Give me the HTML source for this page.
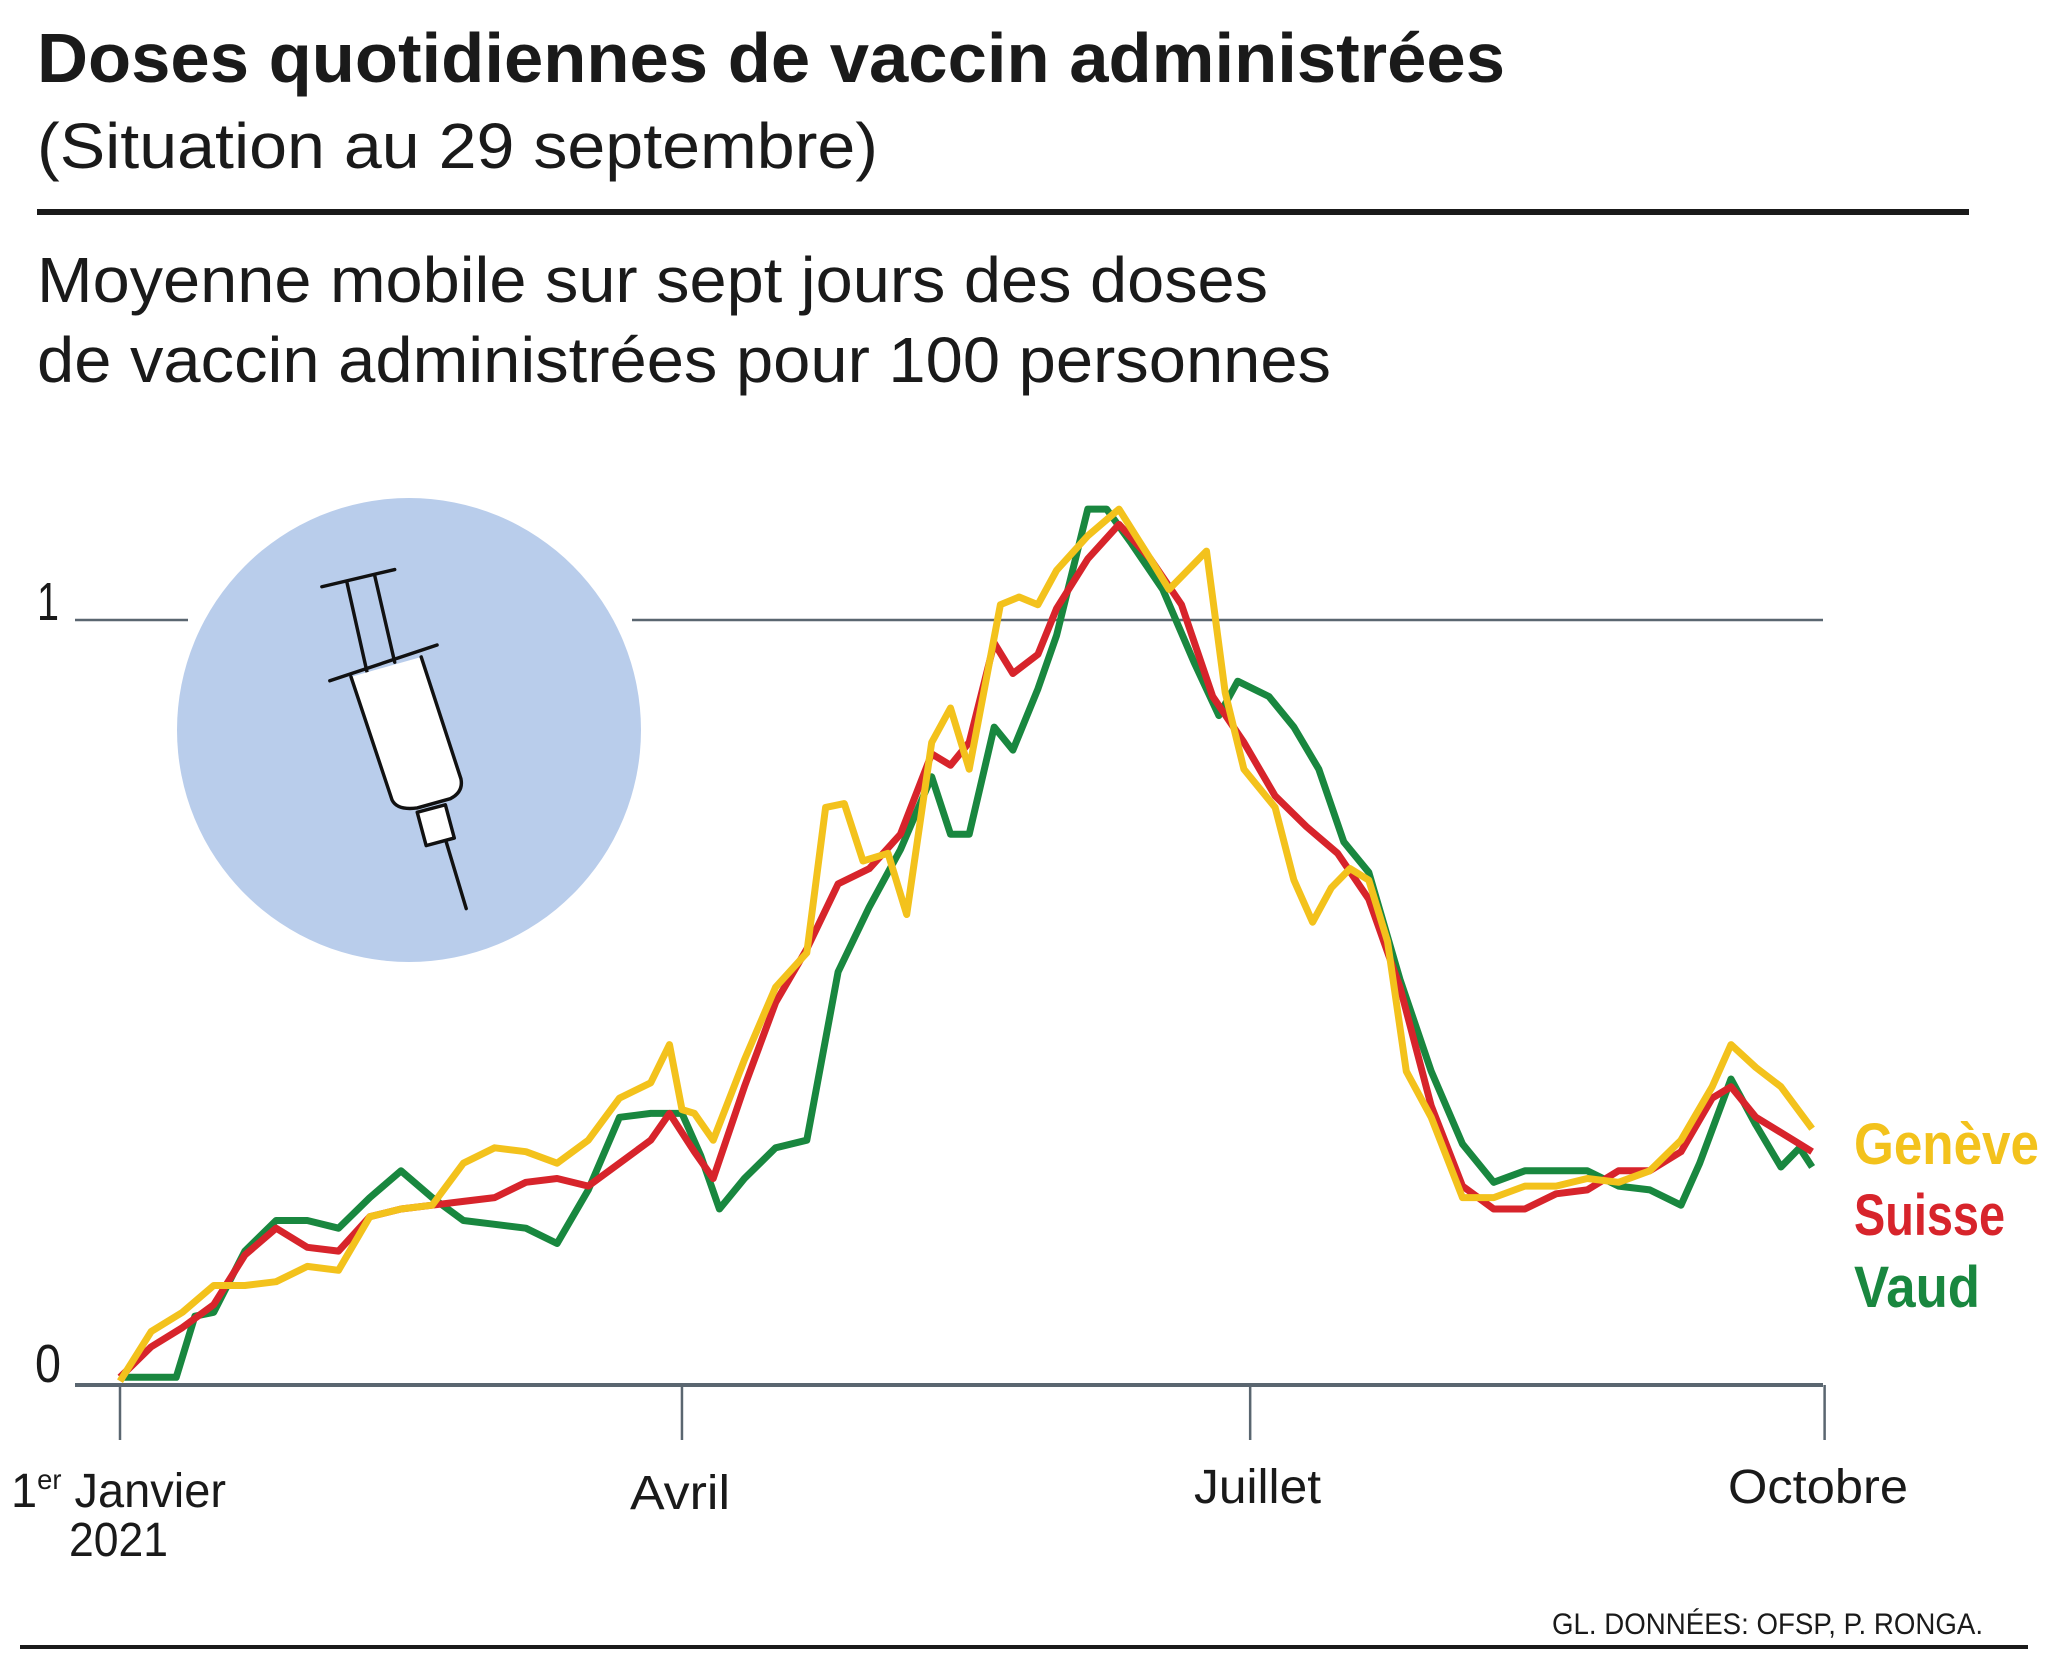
<!DOCTYPE html>
<html><head><meta charset="utf-8"><style>
html,body{margin:0;padding:0;background:#fff;}
svg{display:block;}
text{font-family:"Liberation Sans Narrow","Liberation Sans",sans-serif;}
</style></head><body>
<svg id="chart" width="2048" height="1661" viewBox="0 0 2048 1661" xmlns="http://www.w3.org/2000/svg">
<text x="37" y="82" font-size="70" font-weight="bold" fill="#1a1a1a" textLength="1468" lengthAdjust="spacingAndGlyphs">Doses quotidiennes de vaccin administrées</text>
<text x="37" y="168" font-size="64" fill="#1a1a1a" textLength="841" lengthAdjust="spacingAndGlyphs">(Situation au 29 septembre)</text>
<rect x="37" y="209" width="1932" height="6" fill="#1a1a1a"/>
<text x="37" y="302" font-size="64" fill="#1a1a1a" textLength="1231" lengthAdjust="spacingAndGlyphs">Moyenne mobile sur sept jours des doses</text>
<text x="37" y="382" font-size="64" fill="#1a1a1a" textLength="1294" lengthAdjust="spacingAndGlyphs">de vaccin administrées pour 100 personnes</text>

<line x1="75" y1="620" x2="188" y2="620" stroke="#5a6670" stroke-width="2.5"/>
<line x1="632" y1="620" x2="1823" y2="620" stroke="#5a6670" stroke-width="2.5"/>
<text x="37" y="620" font-size="54" fill="#1a1a1a" textLength="22" lengthAdjust="spacingAndGlyphs">1</text>
<text x="35" y="1382" font-size="54" fill="#1a1a1a" textLength="26" lengthAdjust="spacingAndGlyphs">0</text>

<circle cx="409" cy="730" r="232" fill="#b9cdeb"/>
<g transform="scale(1.3245)" fill="none" stroke="#111" stroke-width="2.6" stroke-linecap="round" stroke-linejoin="round">
<line x1="243" y1="443" x2="298" y2="430"/>
<line x1="262" y1="440" x2="277" y2="507"/>
<line x1="283" y1="435" x2="298" y2="500"/>
<line x1="249" y1="514" x2="330" y2="487"/>
<path d="M265 511 L296 604 Q300 612 315 610 L340 603 Q350 598 348 588 L318 496" fill="#fff"/>
<rect x="318" y="610" width="22" height="26" transform="rotate(-15 329 623)" fill="#fff"/>
<line x1="337" y1="636" x2="352" y2="686"/>
</g>

<g id="plot"></g>

<line x1="75" y1="1385" x2="1823" y2="1385" stroke="#5a6670" stroke-width="4"/>
<g id="xticks"></g>
<text x="11" y="1507" font-size="48" fill="#1a1a1a" textLength="215" lengthAdjust="spacingAndGlyphs">1<tspan font-size="28" dy="-18">er</tspan><tspan dy="18"> Janvier</tspan></text>
<text x="69" y="1556" font-size="48" fill="#1a1a1a" textLength="99" lengthAdjust="spacingAndGlyphs">2021</text>
<text x="630" y="1509" font-size="48" fill="#1a1a1a" textLength="100" lengthAdjust="spacingAndGlyphs">Avril</text>
<text x="1194" y="1503" font-size="48" fill="#1a1a1a" textLength="127" lengthAdjust="spacingAndGlyphs">Juillet</text>
<text x="1728" y="1503" font-size="48" fill="#1a1a1a" textLength="180" lengthAdjust="spacingAndGlyphs">Octobre</text>

<text x="1854" y="1164" font-size="58" font-weight="bold" fill="#f3c21c" textLength="185" lengthAdjust="spacingAndGlyphs">Genève</text>
<text x="1854" y="1235" font-size="58" font-weight="bold" fill="#d7242b" textLength="151" lengthAdjust="spacingAndGlyphs">Suisse</text>
<text x="1854" y="1307" font-size="58" font-weight="bold" fill="#19873f" textLength="126" lengthAdjust="spacingAndGlyphs">Vaud</text>

<text x="1552" y="1634" font-size="30" fill="#1a1a1a" textLength="431" lengthAdjust="spacingAndGlyphs">GL. DONNÉES: OFSP, P. RONGA.</text>
<rect x="20" y="1645" width="2008" height="4" fill="#1a1a1a"/>
</svg>
<script>
const suisseDays = [0,5,10,15,20,25,30,35,40,45,50,55,60,65,70,75,80,85,88,92,95,100,105,110,115,120,125,130,133,136,140,143,147,150,155,160,165,170,175,180,185,190,195,200,205,210,215,220,225,230,235,240,245,250,255,258,262,266,271];
const suisseValues = [0.01,0.05,0.075,0.105,0.17,0.205,0.18,0.175,0.22,0.23,0.235,0.24,0.245,0.265,0.27,0.26,0.29,0.32,0.355,0.305,0.27,0.39,0.50,0.57,0.655,0.675,0.72,0.825,0.81,0.84,0.97,0.93,0.955,1.015,1.08,1.125,1.08,1.02,0.90,0.84,0.77,0.73,0.695,0.635,0.52,0.365,0.26,0.23,0.23,0.25,0.255,0.28,0.28,0.305,0.375,0.39,0.35,0.33,0.305];
const geneveDays = [0,5,10,15,20,25,30,35,40,45,50,55,60,65,70,75,80,85,88,90,92,95,100,105,110,113,116,119,123,126,130,133,136,141,144,147,150,155,160,165,168,171,174,177,180,185,188,191,194,197,200,203,206,210,215,220,225,230,235,240,245,250,255,258,262,266,271];
const geneveValues = [0.005,0.07,0.095,0.13,0.13,0.135,0.155,0.15,0.22,0.23,0.235,0.29,0.31,0.305,0.29,0.32,0.375,0.395,0.445,0.36,0.355,0.32,0.425,0.52,0.565,0.755,0.76,0.685,0.695,0.615,0.84,0.885,0.805,1.02,1.03,1.02,1.065,1.11,1.145,1.08,1.04,1.065,1.09,0.905,0.805,0.755,0.66,0.605,0.65,0.675,0.66,0.58,0.41,0.35,0.245,0.245,0.26,0.26,0.27,0.265,0.28,0.32,0.39,0.445,0.415,0.39,0.335];
const vaudDays = [0,5,9,12,15,20,25,30,35,40,45,50,55,60,65,70,75,80,85,90,93,96,100,105,110,115,120,125,130,133,136,140,143,147,150,155,158,162,167,172,176,179,184,188,192,196,200,205,210,215,220,225,230,235,240,245,250,253,258,262,266,269,271];
const vaudValues = [0.01,0.01,0.01,0.09,0.095,0.175,0.215,0.215,0.205,0.245,0.28,0.245,0.215,0.21,0.205,0.185,0.255,0.35,0.355,0.355,0.30,0.23,0.27,0.31,0.32,0.54,0.625,0.70,0.795,0.72,0.72,0.86,0.83,0.91,0.98,1.145,1.145,1.10,1.04,0.945,0.875,0.92,0.90,0.86,0.805,0.71,0.67,0.53,0.41,0.315,0.265,0.28,0.28,0.28,0.26,0.255,0.235,0.29,0.40,0.34,0.285,0.31,0.285];
const tickDays = [0,90,181,273];
const tickNames = ['tick-janvier','tick-avril','tick-juillet','tick-octobre'];

const NS = 'http://www.w3.org/2000/svg';
function xScale(d){ return 120 + d * 6.244; }
function yScale(v){ return 1385 - v * 765; }
const plot = document.getElementById('plot');
function drawLine(days, vals, color, name){
  const p = document.createElementNS(NS,'polyline');
  p.setAttribute('points', days.map((d,i)=>xScale(d).toFixed(1)+','+yScale(vals[i]).toFixed(1)).join(' '));
  p.setAttribute('fill','none');
  p.setAttribute('stroke',color);
  p.setAttribute('stroke-width','7');
  p.setAttribute('stroke-linejoin','round');
  
  
  plot.appendChild(p);
}
drawLine(vaudDays, vaudValues, '#19873f', 'line-vaud');
drawLine(suisseDays, suisseValues, '#d7242b', 'line-suisse');
drawLine(geneveDays, geneveValues, '#f3c21c', 'line-geneve');
const xt = document.getElementById('xticks');
tickDays.forEach((d,i)=>{
  const l = document.createElementNS(NS,'line');
  l.setAttribute('x1', xScale(d)); l.setAttribute('x2', xScale(d));
  l.setAttribute('y1', 1385); l.setAttribute('y2', 1440);
  l.setAttribute('stroke','#5a6670'); l.setAttribute('stroke-width','2.5');
  
  
  xt.appendChild(l);
});
</script>
</body></html>
